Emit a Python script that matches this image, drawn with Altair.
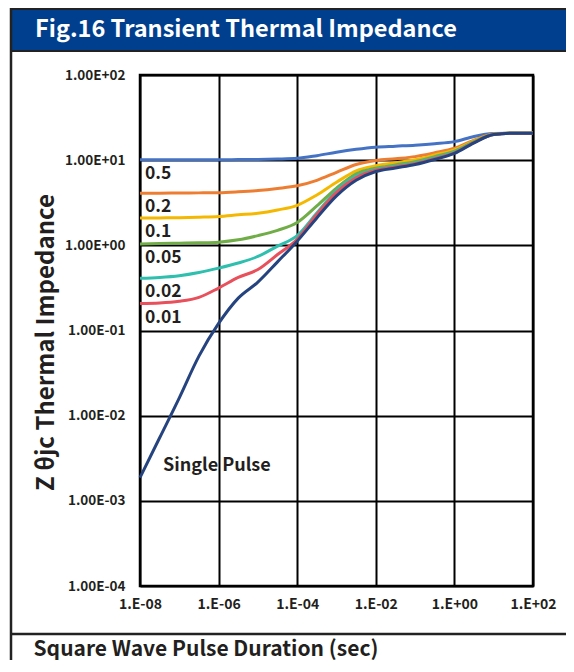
import altair as alt
import pandas as pd

# ---------------- data ----------------
durations = [1e-8, 3.16e-8, 1e-7, 3.16e-7, 1e-6, 3.16e-6, 1e-5, 3.16e-5, 1e-4,
             3.16e-4, 1e-3, 3.16e-3, 1e-2, 3.16e-2, 1e-1, 3.16e-1, 1.0, 3.16,
             10.0, 31.6, 100.0]

z_d050 = [10.1, 10.1, 10.1, 10.1, 10.1, 10.15, 10.2, 10.3, 10.5, 11.3, 12.4,
          13.4, 14.2, 14.6, 15.0, 15.6, 16.5, 19.0, 20.5, 20.7, 20.7]
z_d020 = [4.10, 4.10, 4.12, 4.13, 4.15, 4.25, 4.4, 4.65, 5.0, 5.8, 7.2,
          8.9, 9.9, 10.4, 11.0, 12.2, 13.8, 17.2, 20.3, 20.7, 20.7]
z_d010 = [2.09, 2.10, 2.11, 2.14, 2.18, 2.28, 2.38, 2.6, 2.95, 3.9, 5.5,
          7.5, 8.6, 9.3, 10.1, 11.5, 13.2, 16.8, 20.2, 20.7, 20.7]
z_d005 = [1.04, 1.05, 1.06, 1.07, 1.09, 1.16, 1.30, 1.5, 1.85, 2.9, 4.7,
          6.9, 8.05, 8.8, 9.6, 11.0, 12.8, 16.5, 20.1, 20.7, 20.7]
z_d002 = [0.41, 0.42, 0.44, 0.48, 0.54, 0.62, 0.74, 0.98, 1.3, 2.4, 4.4,
          6.5, 7.8, 8.5, 9.3, 10.6, 12.4, 16.2, 20.0, 20.7, 20.7]
z_d001 = [0.207, 0.21, 0.22, 0.245, 0.315, 0.42, 0.52, 0.78, 1.18, 2.3, 4.2,
          6.2, 7.6, 8.3, 9.1, 10.4, 12.2, 16.1, 20.0, 20.7, 20.7]
z_single = [0.00187, 0.0055, 0.0162, 0.050, 0.121, 0.24, 0.37, 0.64, 1.12, 2.1,
            3.8, 5.8, 7.35, 8.1, 8.9, 10.2, 12.0, 16.0, 20.0, 20.7, 20.7]

series_names = ["0.5", "0.2", "0.1", "0.05", "0.02", "0.01", "Single Pulse"]
series_values = [z_d050, z_d020, z_d010, z_d005, z_d002, z_d001, z_single]
series_colors = ["#4472C4", "#ED7D31", "#F5B800", "#70AD47", "#2FBFAE",
                 "#E8505B", "#25447F"]

x_tick_values = [1e-8, 1e-6, 1e-4, 1e-2, 1.0, 1e2]
x_tick_labels = ["1.E-08", "1.E-06", "1.E-04", "1.E-02", "1.E+00", "1.E+02"]
y_tick_values = [1e-4, 1e-3, 1e-2, 1e-1, 1.0, 1e1, 1e2]
y_tick_labels = ["1.00E-04", "1.00E-03", "1.00E-02", "1.00E-01", "1.00E+00",
                 "1.00E+01", "1.00E+02"]

single_label_pos = [3.85e-8, 2.55e-3]

fig_title = "Fig.16 Transient Thermal Impedance"
x_title = "Square Wave Pulse Duration (sec)"
y_title = "Z θjc Thermal Impedance"

# ---------------- build tables ----------------
rows = []
for order, (name, vals) in enumerate(zip(series_names, series_values)):
    for t, z in zip(durations, vals):
        rows.append({"series": name, "t": t, "z": z, "order": order})
df = pd.DataFrame(rows)

label_df = pd.DataFrame({
    "series": series_names[:-1],
    "t": [durations[0]] * (len(series_names) - 1),
    "z": [v[0] for v in series_values[:-1]],
})
single_df = pd.DataFrame({"t": [single_label_pos[0]], "z": [single_label_pos[1]],
                          "label": [series_names[-1]]})
one = pd.DataFrame({"k": [0]})

FONT = "Noto Sans CJK SC"
TXT = "#231f20"
W, H = 393, 511
PAD = {"left": 132, "top": 67, "right": 33, "bottom": 74}
RIGHT = W + PAD["right"]

x_label_expr = "[" + ",".join(f"'{s}'" for s in x_tick_labels) + \
    "][round((log(datum.value)/LN10 + 8)/2)]"
y_label_expr = "[" + ",".join(f"'{s}'" for s in y_tick_labels) + \
    "][round(log(datum.value)/LN10 + 4)]"

xscale = alt.Scale(type="log", domain=[1e-8, 1e2], nice=False)
yscale = alt.Scale(type="log", domain=[1e-4, 1e2], nice=False)

x_enc = alt.X("t:Q", scale=xscale, axis=alt.Axis(
    values=x_tick_values, labelExpr=x_label_expr, grid=True, gridColor="#000",
    gridWidth=2, gridOpacity=1, ticks=False, domain=False, labelPadding=11,
    labelFont=FONT, labelFontWeight="bold", labelFontSize=14, labelColor=TXT,
    title=x_title, titleFont=FONT, titleFontWeight="bold", titleFontSize=21,
    titleColor=TXT, titleX=-107, titleY=69, titleAlign="left",
    titleAnchor="start", titleBaseline="alphabetic", labelFlush=False))
y_enc = alt.Y("z:Q", scale=yscale, axis=alt.Axis(
    values=y_tick_values, labelExpr=y_label_expr, grid=True, gridColor="#000",
    gridWidth=2, gridOpacity=1, ticks=False, domain=False, labelPadding=15,
    labelFont=FONT, labelFontWeight="bold", labelFontSize=13.5, labelColor=TXT,
    title=y_title, titleFont=FONT, titleFontWeight="bold", titleFontSize=24,
    titleColor=TXT, titleX=-94, titleY=267, titleAngle=-90, titleAlign="center",
    titleBaseline="middle", labelFlush=False))

lines = alt.Chart(df).mark_line(strokeWidth=3, interpolate="monotone").encode(
    x=x_enc, y=y_enc,
    color=alt.Color("series:N", scale=alt.Scale(domain=series_names,
                                                range=series_colors), legend=None),
    order=alt.Order("order:Q"),
    detail="series:N",
)

labels = alt.Chart(label_df).mark_text(
    align="left", baseline="middle", dx=5, dy=14, font=FONT, fontWeight="bold",
    fontSize=17.5, color=TXT).encode(
    x=alt.X("t:Q", scale=xscale), y=alt.Y("z:Q", scale=yscale), text="series:N")

single_lbl = alt.Chart(single_df).mark_text(
    align="left", baseline="middle", font=FONT, fontWeight="bold",
    fontSize=18, color=TXT).encode(
    x=alt.X("t:Q", scale=xscale), y=alt.Y("z:Q", scale=yscale), text="label:N")

# ---------------- frame decorations ----------------
bottom = H + PAD["bottom"]
header = alt.Chart(one).mark_rect(color="#003F8E").encode(
    x=alt.value(-128), x2=alt.value(RIGHT), y=alt.value(-65), y2=alt.value(-24.5))
top_line = alt.Chart(one).mark_rule(color="#222", strokeWidth=2).encode(
    x=alt.value(-130), x2=alt.value(RIGHT), y=alt.value(-66))
hdr_line = alt.Chart(one).mark_rule(color="#222", strokeWidth=2).encode(
    x=alt.value(-130), x2=alt.value(RIGHT), y=alt.value(-24))
left_line = alt.Chart(one).mark_rule(color="#222", strokeWidth=2.5).encode(
    x=alt.value(-129), y=alt.value(-67), y2=alt.value(bottom))
sep_line = alt.Chart(one).mark_rule(color="#222", strokeWidth=2.5).encode(
    x=alt.value(-129), x2=alt.value(RIGHT), y=alt.value(559))
header_text = alt.Chart(one).mark_text(
    align="left", baseline="middle", font=FONT, fontWeight="bold", fontSize=23.5,
    color="white").encode(x=alt.value(-105), y=alt.value(-45),
                          text=alt.value(fig_title))

chart = alt.layer(
    header, top_line, hdr_line, left_line, sep_line, header_text,
    lines, labels, single_lbl,
).properties(
    width=W, height=H,
    autosize=alt.AutoSizeParams(type="none"),
    padding=PAD,
).configure_view(stroke="#000", strokeWidth=2.5)

chart.save("out.html", embed_options={"renderer": "svg", "actions": False})
